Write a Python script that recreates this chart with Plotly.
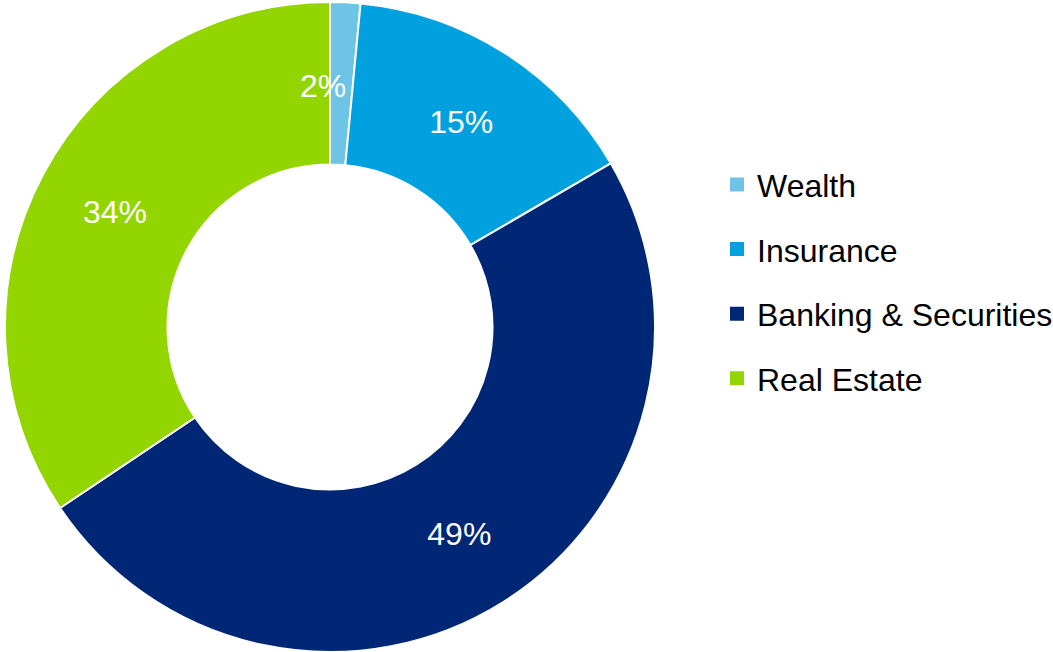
import math
import plotly.graph_objects as go

categories = ["Wealth", "Insurance", "Banking & Securities", "Real Estate"]
values = [1.5, 15.1, 49.0, 34.4]
colors = ["#6DC4E6", "#00A1DE", "#002776", "#93D500"]

FONT = "Liberation Sans, Arial, sans-serif"
W, H = 1053, 652
HOLE = 0.5
PIE_X = [0, 660 / W]
PIE_Y = [0, 1 - 2 / H]

fig = go.Figure()
textpos = ["none"] + ["inside"] * (len(categories) - 1)
fig.add_trace(go.Pie(
    labels=categories,
    values=values,
    hole=HOLE,
    sort=False,
    direction="clockwise",
    rotation=0,
    marker=dict(colors=colors, line=dict(color="white", width=2)),
    texttemplate="%{percent:.0%}",
    textposition=textpos,
    insidetextorientation="horizontal",
    textfont=dict(family=FONT, size=32, color="white"),
    showlegend=False,
    hoverinfo="label+percent",
    domain=dict(x=PIE_X, y=PIE_Y),
))

# label for the thin first slice, placed at the middle of its ring segment
total = sum(values)
frac_mid = (values[0] / 2) / total
ang = 2 * math.pi * frac_mid
cx = (PIE_X[0] + PIE_X[1]) / 2 * W
cy = H * (1 - (PIE_Y[0] + PIE_Y[1]) / 2)
r_out = min((PIE_X[1] - PIE_X[0]) * W, (PIE_Y[1] - PIE_Y[0]) * H) / 2
r_mid = r_out * (1 + HOLE) / 2
ax = cx + r_mid * math.sin(ang)
ay = cy - r_mid * math.cos(ang)
fig.add_annotation(
    x=ax / W, y=1 - ay / H, xref="paper", yref="paper",
    xanchor="center", yanchor="middle",
    text=f"{round(values[0] / total * 100)}%", showarrow=False,
    xshift=-18, yshift=-2, font=dict(family=FONT, size=32, color="white"),
)

# legend entries (one group each so that spacing can match the reference)
for cat, col in zip(categories, colors):
    fig.add_trace(go.Scatter(
        x=[None], y=[None], mode="markers", name=cat,
        marker=dict(symbol="square", size=14, color=col),
        legendgroup=cat, showlegend=True, hoverinfo="skip",
    ))

fig.update_layout(
    width=W, height=H,
    margin=dict(l=0, r=0, t=0, b=0, autoexpand=False),
    paper_bgcolor="white", plot_bgcolor="white",
    xaxis=dict(visible=False), yaxis=dict(visible=False),
    uniformtext=dict(minsize=32, mode="show"),
    legend=dict(
        x=717 / W, xanchor="left", y=0.568, yanchor="middle",
        font=dict(family=FONT, size=32, color="black"),
        tracegroupgap=20, bgcolor="rgba(0,0,0,0)",
    ),
    font=dict(family=FONT),
)

fig.write_html(
    "out.html",
    config={"displayModeBar": False},
    post_script="document.body.style.margin='0';",
)
